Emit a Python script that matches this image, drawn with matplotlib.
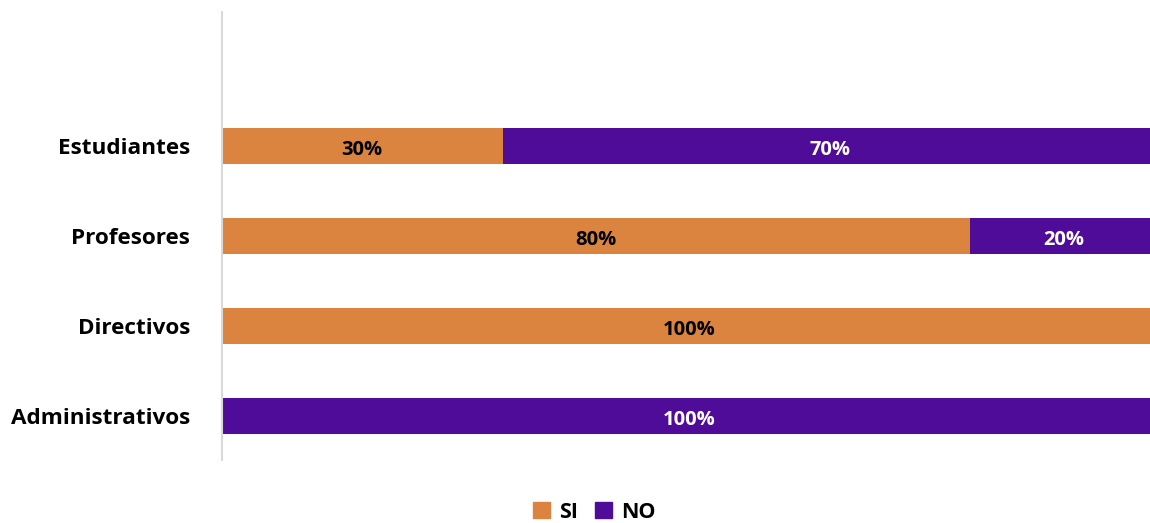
import matplotlib
matplotlib.use("Agg")
import matplotlib.pyplot as plt
from matplotlib.patches import Patch

categories = ["Estudiantes", "Profesores", "Directivos", "Administrativos"]
si_values = [30, 80, 100, 0]
no_values = [70, 20, 0, 100]
series_names = ["SI", "NO"]

ORANGE = "#DA843F"
PURPLE = "#4F0C99"
FONT = ["Open Sans", "DejaVu Sans"]

plt.rcParams["font.family"] = FONT

fig = plt.figure(figsize=(11.5, 5.23), dpi=100)
# plot area runs slightly past the right edge of the canvas
ax = fig.add_axes([222 / 1150, 1 - 460 / 523, 935 / 1150, 448 / 523])

ypos = list(range(len(categories)))
bar_h = 0.4
ax.barh(ypos, si_values, height=bar_h, color=ORANGE, label=series_names[0])
ax.barh(ypos, no_values, left=si_values, height=bar_h, color=PURPLE, label=series_names[1])

for y, s, n in zip(ypos, si_values, no_values):
    if s > 0:
        ax.text(s / 2, y + 0.04, f"{s}%", ha="center", va="center",
                fontsize=14.5, fontweight="bold", color="black")
    if n > 0:
        ax.text(s + n / 2, y + 0.04, f"{n}%", ha="center", va="center",
                fontsize=14.5, fontweight="bold", color="white")

ax.set_xlim(0, 100)
ax.set_ylim(3 + 44 / 90, -134 / 90)
ax.set_yticks(ypos)
ax.set_yticklabels(categories, fontsize=16.2, fontweight="bold")
ax.tick_params(axis="y", length=0, pad=23)
ax.set_xticks([])

for side in ("top", "right", "bottom"):
    ax.spines[side].set_visible(False)
ax.spines["left"].set_color("#D9D9D9")
ax.spines["left"].set_linewidth(1.5)

handles = [Patch(color=ORANGE), Patch(color=PURPLE)]
fig.legend(handles, series_names, loc="center", bbox_to_anchor=(594 / 1150, 1 - 512 / 523),
           ncol=2, frameon=False, handlelength=0.8, handleheight=0.8,
           handletextpad=0.4, columnspacing=0.8,
           prop={"family": FONT, "weight": "bold", "size": 15.5})

fig.savefig("out.png", dpi=100)
